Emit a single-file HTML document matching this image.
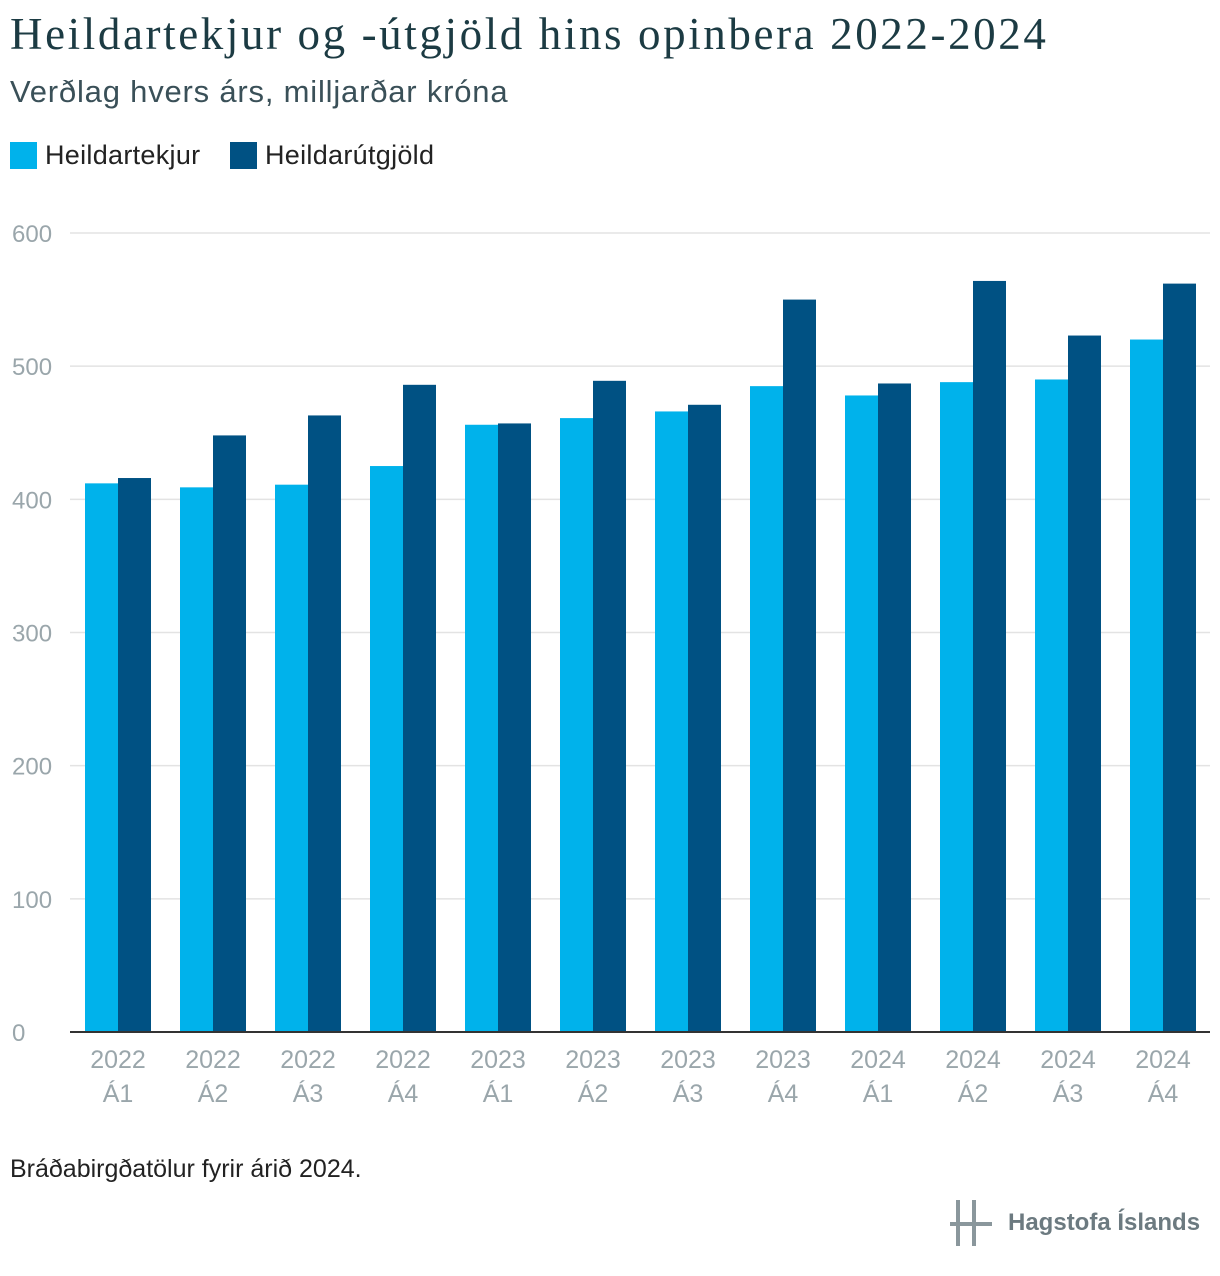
<!DOCTYPE html>
<html><head><meta charset="utf-8"><style>
body{margin:0;background:#fff;width:1220px;height:1276px;overflow:hidden;font-family:"Liberation Sans",sans-serif}
#title{position:absolute;left:10px;top:8px;font-family:"Liberation Serif",serif;font-size:45px;letter-spacing:2.6px;color:#1c3b43;white-space:nowrap}
#sub{position:absolute;left:10px;top:74px;font-size:31px;letter-spacing:0.8px;color:#3a5058;white-space:nowrap}
.leg{position:absolute;top:140px;font-size:27px;letter-spacing:0.3px;color:#222;display:flex;align-items:center}
.sw{width:27px;height:27px;margin-right:8px}
#note{position:absolute;left:10px;top:1155px;font-size:25px;color:#222}
#logo{position:absolute;left:950px;top:1198px;display:flex;align-items:center;color:#6c7a80;font-size:24px;font-weight:bold}
</style></head><body>
<div id="title">Heildartekjur og -útgjöld hins opinbera 2022-2024</div>
<div id="sub">Verðlag hvers árs, milljarðar króna</div>
<div class="leg" style="left:10px"><div class="sw" style="background:#00b2eb"></div>Heildartekjur</div>
<div class="leg" style="left:230px"><div class="sw" style="background:#005183"></div>Heildarútgjöld</div>
<svg id="chart" width="1220" height="1276" style="position:absolute;left:0;top:0"></svg>
<div id="note">Bráðabirgðatölur fyrir árið 2024.</div>
<div id="logo"><svg width="50" height="50" style="margin-right:8px"><rect x="6" y="2" width="4" height="46" fill="#8a979c"/><rect x="22" y="2" width="4" height="46" fill="#8a979c"/><rect x="0" y="24" width="42" height="4" fill="#8a979c"/></svg>Hagstofa Íslands</div>
<script>
const years=["2022","2022","2022","2022","2023","2023","2023","2023","2024","2024","2024","2024"];
const quarters=["Á1","Á2","Á3","Á4","Á1","Á2","Á3","Á4","Á1","Á2","Á3","Á4"];
const revenue=[412,409,411,425,456,461,466,485,478,488,490,520];
const expenses=[416,448,463,486,457,489,471,550,487,564,523,562];
const yTicks=[0,100,200,300,400,500,600];
const NS="http://www.w3.org/2000/svg";
const svg=document.getElementById('chart');
const x0=70,gw=95,y0=1032,yTop=233;
const y=v=>y0-(v/600)*(y0-yTop);
function mk(t,a){const e=document.createElementNS(NS,t);for(const k in a)e.setAttribute(k,a[k]);svg.appendChild(e);return e;}
yTicks.forEach(t=>{
  const l=mk('line',{x1:x0,x2:1210,y1:y(t),y2:y(t),stroke:t?'#e3e3e3':'#333','stroke-width':t?1.5:2});
  
  
  const tx=mk('text',{x:12,y:y(t)+9,'font-size':24,fill:'#9aa6ab','font-family':'Liberation Sans, sans-serif'});
  tx.textContent=t;
  
  
});
years.forEach((yr,i)=>{
  const gx=x0+i*gw;
  const r1=mk('rect',{x:gx+15,y:y(revenue[i]),width:33,height:y0-y(revenue[i]),fill:'#00b2eb'});
  
  
  const r2=mk('rect',{x:gx+48,y:y(expenses[i]),width:33,height:y0-y(expenses[i]),fill:'#005183'});
  
  
  [yr,quarters[i]].forEach((s,j)=>{
    const t=mk('text',{x:gx+48,y:1068+j*34,'text-anchor':'middle','font-size':25,fill:'#9aa6ab','font-family':'Liberation Sans, sans-serif'});
    t.textContent=s;
    
    
  });
});
mk('line',{x1:x0,x2:1210,y1:y0,y2:y0,stroke:'#333','stroke-width':2});
</script>
</body></html>
